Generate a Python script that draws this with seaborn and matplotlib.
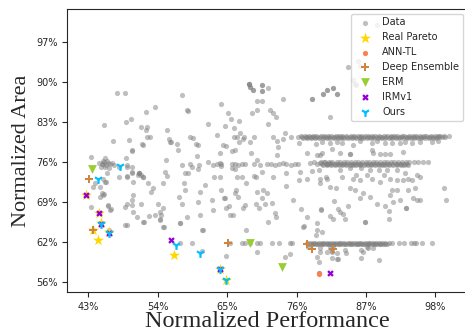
import matplotlib
matplotlib.use("Agg")
import pandas as pd
import seaborn as sns
import matplotlib.pyplot as plt

# x = normalized performance (%), y = normalized area (%)
data_pts = [
    (47.5, 88.3), (48.8, 88.3), (57.8, 87.9), (53.5, 85.8), (52.1, 85.0), (58.6, 85.4), (58.8, 85.2),
    (45.5, 82.7), (49.0, 83.2), (49.7, 83.7), (51.3, 82.4), (52.3, 82.4), (52.1, 81.8), (55.5, 81.9),
    (46.9, 80.0), (49.4, 80.1), (52.3, 80.7), (52.8, 80.7), (51.5, 79.5), (51.7, 79.3), (55.8, 80.3),
    (56.1, 79.9), (59.1, 80.7), (59.6, 80.5), (60.1, 79.4), (64.1, 86.3), (65.1, 84.9), (65.6, 83.8),
    (66.9, 83.5), (64.7, 82.6), (66.1, 82.3), (61.9, 83.0), (63.4, 81.1), (64.4, 79.3), (66.1, 80.7),
    (66.5, 80.7), (67.0, 81.3), (67.5, 80.4), (67.7, 80.7), (66.9, 79.9), (68.7, 79.9), (69.3, 80.7),
    (68.9, 84.9), (69.8, 85.3), (69.8, 86.9), (70.6, 86.9), (71.5, 89.1), (71.8, 85.3), (72.3, 84.8),
    (72.7, 84.2), (71.5, 82.9), (73.9, 87.3), (74.1, 81.3), (72.2, 80.7), (72.9, 80.0), (73.9, 80.4),
    (76.4, 79.6), (79.1, 79.5), (81.3, 84.2), (88.7, 100.0), (85.8, 93.7), (86.1, 92.9), (84.2, 92.8),
    (85.0, 90.5), (85.3, 89.9), (85.5, 89.6),
    (68.4, 89.8), (68.4, 89.8), (68.4, 89.9), (68.6, 89.3), (68.6, 89.3), (69.1, 88.8), (69.1, 88.8),
    (70.5, 89.6), (70.5, 89.6), (70.6, 88.6), (70.6, 88.6), (78.4, 87.2), (78.4, 87.2), (80.2, 88.1),
    (80.2, 88.1), (80.8, 88.8), (80.8, 88.8), (81.8, 89.1), (81.8, 89.1), (82.4, 88.1), (82.4, 88.1),
    (49.9, 78.2), (49.0, 77.0), (49.1, 75.5), (50.0, 75.5), (50.0, 74.7), (49.2, 73.9), (45.6, 77.0),
    (43.4, 77.3), (47.9, 75.5), (45.9, 74.4), (45.3, 73.5), (44.1, 72.7), (43.7, 72.1), (45.8, 73.0),
    (45.1, 71.0), (45.5, 70.8), (43.4, 68.6), (46.2, 68.9), (46.6, 68.2), (51.1, 74.4), (51.1, 74.4),
    (51.1, 74.5), (51.7, 73.7), (51.7, 73.7), (51.4, 74.1), (52.5, 72.8), (53.2, 71.9), (52.9, 71.2),
    (50.1, 70.7), (50.0, 69.9), (49.1, 69.2), (48.8, 68.6), (49.9, 68.9), (51.3, 69.1), (50.1, 67.8),
    (50.7, 66.9), (52.7, 67.0), (53.6, 67.2), (54.1, 69.2), (54.4, 67.8), (54.8, 68.4), (54.6, 67.2),
    (54.4, 66.6), (51.7, 66.1), (48.8, 65.5), (54.9, 65.2), (55.2, 74.7), (55.4, 73.9), (54.8, 72.7),
    (55.3, 76.7), (57.2, 78.4), (57.8, 75.8), (59.1, 76.0), (59.5, 75.5), (60.6, 75.8), (60.4, 75.1),
    (58.3, 74.4), (58.8, 74.4), (58.1, 72.8), (58.3, 71.6), (57.3, 70.3), (57.8, 69.2), (58.6, 66.9),
    (57.5, 65.8), (60.4, 69.5), (60.7, 71.2), (61.5, 72.4), (62.6, 69.8), (62.8, 68.1), (60.7, 67.2),
    (61.2, 64.6), (62.0, 76.4), (62.8, 75.8), (63.4, 76.1), (63.8, 76.2), (64.0, 75.7), (62.9, 73.8),
    (63.9, 73.8), (64.1, 71.5), (64.6, 70.2), (64.9, 79.1), (63.9, 77.9), (60.4, 79.3), (60.2, 77.4),
    (56.0, 79.9), (57.0, 79.5),
    (44.7, 76.2), (45.2, 76.0), (45.5, 76.4), (45.8, 75.8), (46.1, 76.2), (46.4, 76.0), (46.8, 76.2),
    (47.1, 75.8), (45.0, 75.5), (45.7, 75.5), (46.3, 75.3), (45.3, 76.5), (46.0, 76.5), (45.4, 76.1),
    (49.1, 75.8), (49.9, 74.4), (47.8, 73.8), (49.1, 73.8), (50.1, 73.0), (50.8, 74.1), (45.6, 73.0),
    (44.9, 72.1), (44.9, 70.4), (45.4, 70.7), (46.1, 68.8), (46.4, 68.1), (49.1, 65.5), (46.3, 64.7),
    (49.9, 78.4), (57.5, 62.4), (59.4, 62.4), (61.1, 61.0), (64.8, 60.2), (61.1, 64.6), (57.6, 65.8),
    (55.0, 65.1), (51.9, 66.1), (54.3, 66.3),
    (65.7, 78.3), (66.3, 78.5), (68.8, 78.0), (64.1, 76.0), (65.7, 76.0), (66.2, 76.1), (66.8, 75.9),
    (67.4, 76.0), (67.9, 76.1), (65.7, 75.3), (66.3, 75.1), (66.5, 73.8), (67.3, 73.8), (68.0, 72.8),
    (66.4, 71.5), (66.3, 71.1), (64.5, 70.1), (66.8, 70.3), (65.3, 68.8), (64.9, 68.4), (65.5, 67.2),
    (66.0, 67.2), (67.8, 68.9), (67.5, 68.4), (68.0, 64.6), (69.2, 76.1), (69.7, 76.7), (70.2, 75.8),
    (70.5, 74.7), (69.3, 73.9), (69.6, 73.7), (69.7, 71.2), (70.7, 71.6), (71.3, 71.0), (70.5, 70.1),
    (71.0, 69.2), (69.6, 69.2), (70.1, 68.4), (72.1, 69.3), (72.6, 67.6), (72.8, 66.9), (71.5, 66.1),
    (71.3, 76.0), (71.9, 76.1), (72.6, 75.9), (73.2, 76.0), (73.8, 76.2), (74.4, 76.0), (75.1, 75.9),
    (75.7, 76.1), (76.3, 76.0), (72.2, 73.8), (72.9, 77.6), (73.1, 79.0), (74.4, 74.5), (74.3, 72.2),
    (75.5, 69.8), (76.7, 68.2), (76.6, 74.7), (76.4, 73.2), (77.7, 78.0), (77.7, 73.4), (77.6, 66.9),
    (77.0, 65.2), (78.4, 74.9), (79.2, 77.6), (80.0, 78.0), (78.2, 76.2), (78.7, 76.3), (79.3, 76.1),
    (79.8, 76.2), (80.4, 76.3), (80.9, 76.1), (81.3, 76.2), (79.5, 75.0), (79.7, 73.5), (80.7, 73.8),
    (79.7, 72.7), (79.9, 68.1), (79.2, 65.8), (79.2, 64.6), (80.0, 64.3), (81.3, 67.0),
    (69.8, 60.8), (77.2, 65.3), (79.1, 63.8), (74.2, 60.0), (74.9, 60.5), (79.3, 59.9), (79.6, 59.2),
    (79.7, 60.9), (81.3, 61.5), (80.8, 60.9), (81.7, 60.9), (82.5, 59.6), (83.7, 61.2), (83.8, 60.6),
    (86.2, 61.2), (86.6, 60.9), (87.1, 61.7), (77.9, 61.7), (79.6, 57.3), (79.6, 57.2),
    (81.8, 61.9), (81.6, 61.0), (82.4, 60.6), (82.4, 59.7), (81.6, 59.8), (86.3, 59.8), (87.4, 61.5),
    (89.0, 59.4), (88.2, 61.6), (79.8, 61.6),
    (82.0, 69.6), (79.9, 68.2), (82.6, 68.2), (82.9, 67.8), (83.4, 67.4), (81.8, 66.6), (83.7, 66.5),
    (84.2, 68.8), (86.9, 66.0), (86.9, 66.0), (87.7, 70.4), (86.0, 70.1), (86.6, 71.1), (85.3, 71.5),
    (84.5, 71.8), (88.7, 69.2), (90.0, 68.8), (90.6, 67.9), (90.6, 66.6), (90.8, 70.7), (91.3, 69.5),
    (91.1, 71.5), (92.4, 69.8), (91.9, 71.5), (93.4, 68.5), (93.4, 68.5), (93.7, 71.5), (94.5, 70.1),
    (95.1, 69.8), (95.6, 69.8), (94.8, 71.8), (99.3, 71.8), (99.7, 69.8), (80.8, 73.4), (82.3, 71.8),
    (81.3, 72.1), (83.2, 73.8), (85.0, 73.5), (86.1, 73.2), (85.5, 74.1), (87.1, 74.1), (87.9, 73.5),
    (89.2, 73.0), (89.8, 74.1), (90.8, 73.5), (92.0, 73.2), (92.9, 73.2), (93.7, 73.5), (94.3, 73.2),
    (95.1, 74.1), (95.6, 73.8), (93.2, 74.4), (87.7, 75.0), (89.0, 75.0), (90.3, 75.0), (91.9, 75.0),
    (86.3, 75.3), (82.9, 75.0), (84.5, 75.3),
    (80.0, 79.9), (81.3, 79.7), (82.4, 79.9), (83.2, 79.7), (85.0, 79.3), (86.1, 80.0), (87.9, 79.6),
    (88.7, 80.0), (90.0, 79.6), (91.1, 79.7), (92.4, 79.6), (93.2, 79.9), (94.3, 79.6), (95.6, 79.9),
    (97.4, 79.9), (98.5, 80.0), (81.6, 78.6), (82.9, 77.9), (87.9, 78.4), (88.2, 77.9), (92.9, 78.1),
    (84.5, 77.7), (84.5, 77.7), (89.2, 77.7), (90.0, 77.7), (90.8, 77.7), (79.7, 77.6), (100.2, 80.8),
    (75.2, 80.7), (76.3, 80.7), (77.6, 80.6), (78.4, 80.7),
]

# dense horizontal rows of data points (y level, x values)
band80_hi_y = 80.9
band80_hi_x = [76.7, 77.3, 78.0, 78.6, 79.1, 79.9, 80.4, 81.0, 81.5, 82.3, 82.8, 83.2, 83.9, 84.6,
               85.1, 85.7, 86.2, 86.9, 87.4, 88.0, 88.5, 89.1, 89.8, 90.3, 90.9, 91.4, 92.0, 92.7,
               93.1, 93.8, 94.4, 94.9, 95.5, 96.2, 96.6, 97.3, 97.9, 98.4, 98.8, 99.3]
band80_mid_y = 80.7
band80_mid_x = [76.9, 77.5, 78.1, 78.8, 79.3, 79.7, 80.3, 80.6, 81.2, 81.8, 82.1, 82.6, 83.0, 83.4,
                84.0, 84.5, 84.9, 85.3, 85.9, 86.3, 86.7, 87.3, 87.6, 88.1, 88.7, 89.3, 89.6, 90.2,
                90.8, 91.1, 91.6, 92.2, 92.5, 93.3, 93.7, 94.2, 94.6, 95.1, 95.7, 96.0, 96.8, 97.2,
                97.7, 98.3, 98.6, 99.1, 99.6]
band80_lo_y = 80.5
band80_lo_x = [77.0, 77.6, 78.3, 79.0, 79.6, 80.2, 80.8, 81.3, 82.0, 82.5, 83.1, 83.6, 84.2, 84.8,
               85.4, 86.0, 86.5, 87.1, 87.8, 88.3, 88.9, 89.5, 90.1, 90.6, 91.2, 91.8, 92.3, 92.9,
               93.5, 94.1, 94.7, 95.2, 95.8, 96.4, 97.0, 97.6, 98.1]
band76_hi_y = 76.3
band76_hi_x = [79.9, 80.5, 81.2, 81.7, 82.4, 82.9, 83.5, 84.0, 84.7, 85.2, 85.8, 86.4, 87.0, 87.5,
               88.1, 88.6, 89.3, 89.8, 90.4, 91.0, 91.5, 92.1, 92.8, 93.3, 93.9, 94.6, 95.3, 96.1, 96.8]
band76_mid_y = 76.1
band76_mid_x = [80.0, 80.7, 81.0, 81.4, 81.9, 82.3, 82.6, 83.0, 83.4, 83.7, 84.2, 84.6, 84.9, 85.3,
                85.7, 86.0, 86.3, 86.9, 87.2, 87.6, 88.0, 88.3, 88.8, 89.1, 89.5, 89.9, 90.3, 90.6,
                91.1, 91.7, 92.0, 92.4, 92.7, 93.2, 93.5]
band76_lo_y = 75.9
band76_lo_x = [80.2, 80.9, 81.5, 82.1, 82.7, 83.2, 83.8, 84.4, 85.0, 85.5, 86.1, 86.7, 87.3, 87.8,
               88.4, 89.0, 89.6, 90.1, 90.7, 91.3, 91.9, 92.5, 93.0, 93.6]
band62_hi_y = 62.4
band62_hi_x = [65.5, 67.4, 67.8, 68.6, 69.7, 70.2, 72.1, 73.2, 75.0, 75.3,
               77.7, 78.1, 78.6, 79.0, 79.5, 80.0, 80.4, 80.9, 81.3, 81.8, 82.2, 82.7, 83.1, 83.6,
               84.1, 84.5, 85.0, 85.4, 85.9, 86.3, 86.8, 87.3, 87.7, 88.2, 88.6, 89.1, 89.5, 90.0,
               90.6, 91.1, 92.3, 93.0, 94.2, 94.6, 95.0, 95.9, 97.4]
band62_mid_y = 62.3
band62_mid_x = [77.9, 78.4, 78.8, 79.3, 79.7, 80.1, 80.6, 81.0, 81.5, 81.9, 82.4, 82.8, 83.3, 83.7,
                84.3, 84.6, 85.2, 85.6, 86.1, 86.5, 87.0, 87.4, 87.9, 88.3, 88.8, 89.2, 89.7, 90.1]
band62_lo_y = 62.2
band62_lo_x = [78.3, 79.2, 80.2, 81.1, 82.0, 82.9, 83.9, 84.8, 85.7, 86.6, 87.5, 88.4, 89.3, 90.3]

# method results
pareto_x = [42.6, 44.7, 45.0, 46.3, 43.7, 44.5, 56.6, 63.9, 64.8]
pareto_y = [70.7, 67.5, 65.8, 64.3, 64.6, 63.0, 60.3, 58.0, 56.0]
anntl_x = [79.6]
anntl_y = [57.0]
deep_x = [43.1, 43.7, 65.1, 77.6, 78.5, 81.8]
deep_y = [73.4, 64.6, 62.4, 62.2, 61.4, 61.3]
erm_x = [43.6, 68.6, 73.7]
erm_y = [75.1, 62.4, 58.3]
irm_x = [42.6, 44.7, 45.0, 46.3, 56.1, 63.9, 81.3]
irm_y = [70.7, 67.5, 65.7, 64.2, 63.0, 58.0, 57.3]
ours_x = [48.0, 44.6, 45.0, 46.3, 56.9, 60.7, 63.9, 64.8]
ours_y = [75.7, 73.4, 65.7, 64.2, 62.1, 60.7, 58.0, 56.0]

x_ticks = [43, 54, 65, 76, 87, 98]
x_labels = ["43%", "54%", "65%", "76%", "87%", "98%"]
y_ticks = [55.6, 62.5, 69.4, 76.3, 83.2, 90.1, 97.0]
y_labels = ["56%", "62%", "69%", "76%", "83%", "90%", "97%"]

xs = [p[0] for p in data_pts]
ys = [p[1] for p in data_pts]
bands = [(band80_hi_x, band80_hi_y), (band80_mid_x, band80_mid_y), (band80_lo_x, band80_lo_y),
         (band76_hi_x, band76_hi_y), (band76_mid_x, band76_mid_y), (band76_lo_x, band76_lo_y),
         (band62_hi_x, band62_hi_y), (band62_mid_x, band62_mid_y), (band62_lo_x, band62_lo_y)]
for bx, by in bands:
    xs += bx
    ys += [by] * len(bx)
df = pd.DataFrame({"perf": xs, "area": ys})

sns.set_style("ticks")
plt.rcParams["font.family"] = ["DejaVu Sans"]

fig = plt.figure(figsize=(4.65, 3.32), dpi=100)
ax = fig.add_axes([0.1447, 0.1196, 0.862, 0.8542])

sns.scatterplot(data=df, x="perf", y="area", color="gray", alpha=0.5, s=14, linewidth=0,
                label="Data", ax=ax)
sns.scatterplot(x=pareto_x, y=pareto_y, marker="*", color="gold", s=70, linewidth=0,
                label="Real Pareto", ax=ax)
sns.scatterplot(x=anntl_x, y=anntl_y, marker="o", color="coral", s=14, linewidth=0,
                label="ANN-TL", ax=ax)
sns.scatterplot(x=deep_x, y=deep_y, marker="P", color="peru", s=30, linewidth=0,
                label="Deep Ensemble", ax=ax)
sns.scatterplot(x=erm_x, y=erm_y, marker="v", color="yellowgreen", s=40, linewidth=0,
                label="ERM", ax=ax)
sns.scatterplot(x=irm_x, y=irm_y, marker="X", color="darkviolet", s=22, linewidth=0,
                label="IRMv1", ax=ax)
sns.scatterplot(x=ours_x, y=ours_y, marker="1", color="deepskyblue", s=40, linewidth=1.6,
                label="Ours", ax=ax)

ax.set_xlim(39.67, 103.2)
ax.set_ylim(53.9, 102.8)
ax.set_xticks(x_ticks)
ax.set_xticklabels(x_labels, fontsize=7)
ax.set_yticks(y_ticks)
ax.set_yticklabels(y_labels, fontsize=7)
ax.set_xlabel("Normalized Performance", fontsize=17.5, family="Liberation Serif", labelpad=-1)
ax.set_ylabel("Normalized Area", fontsize=16, family="Liberation Serif", labelpad=4)
ax.legend(loc="upper right", fontsize=7, framealpha=0.8)

plt.savefig("out.png", dpi=100)
